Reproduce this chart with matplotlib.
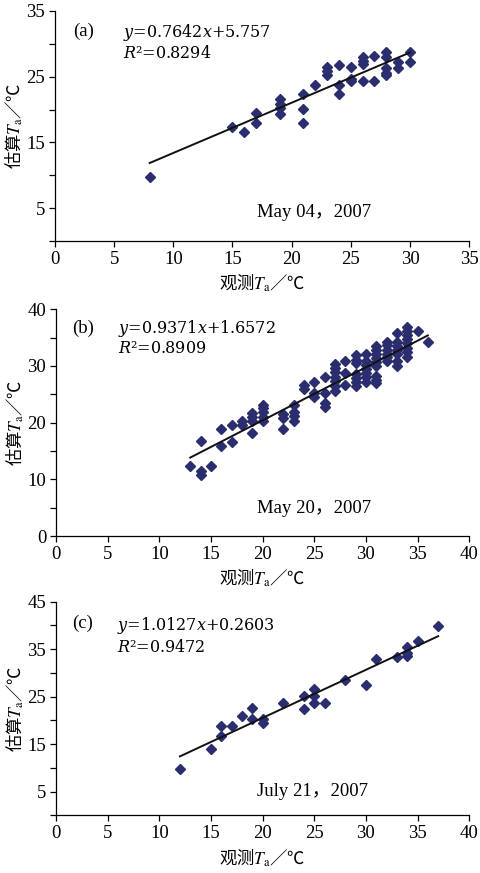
import matplotlib
matplotlib.use('Agg')
import matplotlib.pyplot as plt
import numpy as np

plt.rcParams['font.family'] = ['Liberation Serif', 'Noto Sans CJK SC']
plt.rcParams['mathtext.fontset'] = 'stix'

# (a) May 04, 2007
xa = [8, 15, 16, 17, 17, 19, 19, 19, 19, 21, 21, 21, 22, 23, 23, 23,
      24, 24, 24, 25, 25, 25, 26, 26, 26, 26, 27, 27, 28, 28, 28, 28, 28,
      29, 29, 30, 30]
ya = [9.7, 17.4, 16.6, 19.5, 18.0, 21.6, 20.9, 20.2, 19.4, 22.3, 20.1, 18.0,
      23.8, 26.5, 25.9, 25.3, 26.8, 23.7, 22.3, 26.5, 24.6, 24.3, 28.0, 27.4,
      26.9, 24.4, 28.2, 24.4, 28.7, 28.0, 26.3, 25.5, 25.2, 27.3, 26.3, 28.7,
      27.2]

# (b) May 20, 2007
xb = [13, 14, 14, 14, 15, 16, 16, 17, 17, 18, 18, 19, 19, 19, 19,
      20, 20, 20, 20, 20, 22, 22, 22, 23, 23, 23, 23, 24, 24, 25, 25, 25,
      26, 26, 26, 26, 27, 27, 27, 27, 27, 27, 27, 28, 28, 28,
      29, 29, 29, 29, 29, 29, 29, 30, 30, 30, 30, 30, 30, 30,
      31, 31, 31, 31, 31, 31, 31, 31, 31, 32, 32, 32, 32, 32, 32,
      33, 33, 33, 33, 33, 33, 33, 34, 34, 34, 34, 34, 34, 34, 34, 35, 36]
yb = [12.4, 16.8, 11.5, 10.8, 12.4, 18.8, 15.9, 19.5, 16.6, 20.3, 19.5,
      21.7, 21.0, 20.3, 18.1, 23.2, 22.5, 21.8, 21.0, 20.3, 21.6, 20.9, 18.9,
      23.2, 21.8, 21.1, 20.3, 26.6, 25.9, 27.2, 25.3, 24.5,
      28.0, 25.2, 23.4, 22.8, 30.3, 29.6, 28.9, 28.1, 27.4, 26.5, 25.6,
      30.9, 28.8, 26.6, 32.0, 31.1, 30.5, 28.6, 27.9, 27.1, 26.4,
      32.1, 30.8, 30.1, 29.4, 28.7, 28.0, 27.2,
      33.6, 32.8, 32.1, 31.4, 30.7, 30.0, 28.3, 27.6, 27.0,
      34.3, 33.7, 32.9, 32.2, 31.5, 30.8,
      35.9, 34.3, 33.6, 32.9, 32.2, 30.8, 30.0,
      36.9, 36.2, 35.5, 34.8, 34.0, 33.2, 32.4, 31.6, 36.1, 34.3]

# (c) July 21, 2007
xc = [12, 15, 16, 16, 17, 18, 19, 19, 20, 20, 22, 24, 24, 25, 25, 25, 26,
      28, 30, 31, 33, 34, 34, 34, 35, 37]
yc = [9.7, 13.9, 18.8, 16.8, 18.8, 20.9, 22.5, 20.2, 20.2, 19.5, 23.7, 25.2,
      22.4, 26.6, 25.1, 23.7, 23.7, 28.6, 27.4, 32.9, 33.4, 35.5, 34.1, 33.6,
      36.7, 39.9]

panels = [
    dict(x=xa, y=ya, tag='(a)', k=0.7642, b=5.757, kt='0.7642', bt='5.757',
         r2='0.8294', date='May 04，2007', xmax=35, ymax=35, ylab=[5, 15, 25, 35],
         rect=[0.1143, 0.7239, 0.861, 0.2635],
         pos=dict(tag=(0.043, 0.91), eq=(0.164, 0.906), r=(0.164, 0.816), d=(0.488, 0.126))),
    dict(x=xb, y=yb, tag='(b)', k=0.9371, b=1.6572, kt='0.9371', bt='1.6572',
         r2='0.8909', date='May 20，2007', xmax=40, ymax=40, ylab=[0, 10, 20, 30, 40],
         rect=[0.1164, 0.386, 0.859, 0.2597],
         pos=dict(tag=(0.040, 0.916), eq=(0.151, 0.916), r=(0.151, 0.828), d=(0.486, 0.122))),
    dict(x=xc, y=yc, tag='(c)', k=1.0127, b=0.2603, kt='1.0127', bt='0.2603',
         r2='0.9472', date='July 21，2007', xmax=40, ymax=45, ylab=[5, 15, 25, 35, 45],
         rect=[0.1164, 0.0661, 0.859, 0.2447],
         pos=dict(tag=(0.040, 0.899), eq=(0.148, 0.888), r=(0.148, 0.785), d=(0.486, 0.110))),
]

fig = plt.figure(figsize=(4.81, 8.73), dpi=100)

for p in panels:
    ax = fig.add_axes(p['rect'])
    ax.plot(p['x'], p['y'], 'D', ms=5, color='#2b2e6e', mec='#2b2e6e')
    xl = np.array([min(p['x']), max(p['x'])])
    ax.plot(xl, p['k'] * xl + p['b'], color='#111111', lw=1.4)

    ax.set_xlim(0, p['xmax'])
    ax.set_ylim(0, p['ymax'])
    ax.set_xticks(np.arange(0, p['xmax'] + 1, 5))
    yt = np.arange(0, p['ymax'] + 1, 5)
    ax.set_yticks(yt)
    ax.set_yticklabels([str(v) if v in p['ylab'] else '' for v in yt])
    ax.spines['top'].set_visible(False)
    ax.spines['right'].set_visible(False)
    for s in ['left', 'bottom']:
        ax.spines[s].set_linewidth(0.9)
    ax.tick_params(direction='out', length=4, width=0.9, labelsize=13.5, pad=3)

    ax.set_xlabel('观测$T_{\\mathrm{a}}$／℃', fontsize=12.5, family='Noto Sans CJK SC',
                  labelpad=3)
    ax.set_ylabel('估算$T_{\\mathrm{a}}$／℃', fontsize=12.5, family='Noto Sans CJK SC',
                  labelpad=1)

    ps = p['pos']
    ax.text(*ps['tag'], p['tag'], transform=ax.transAxes, fontsize=13.5, va='center')
    ax.text(*ps['eq'], '$y$=' + p['kt'] + '$x$+' + p['bt'], transform=ax.transAxes,
            fontsize=11.5, va='center', family='DejaVu Serif', math_fontfamily='dejavuserif')
    ax.text(*ps['r'], '$R$²=' + p['r2'], transform=ax.transAxes, fontsize=11.5,
            va='center', family='DejaVu Serif', math_fontfamily='dejavuserif')
    ax.text(*ps['d'], p['date'], transform=ax.transAxes, fontsize=13.5, va='center')

fig.savefig('out.png', dpi=100)
